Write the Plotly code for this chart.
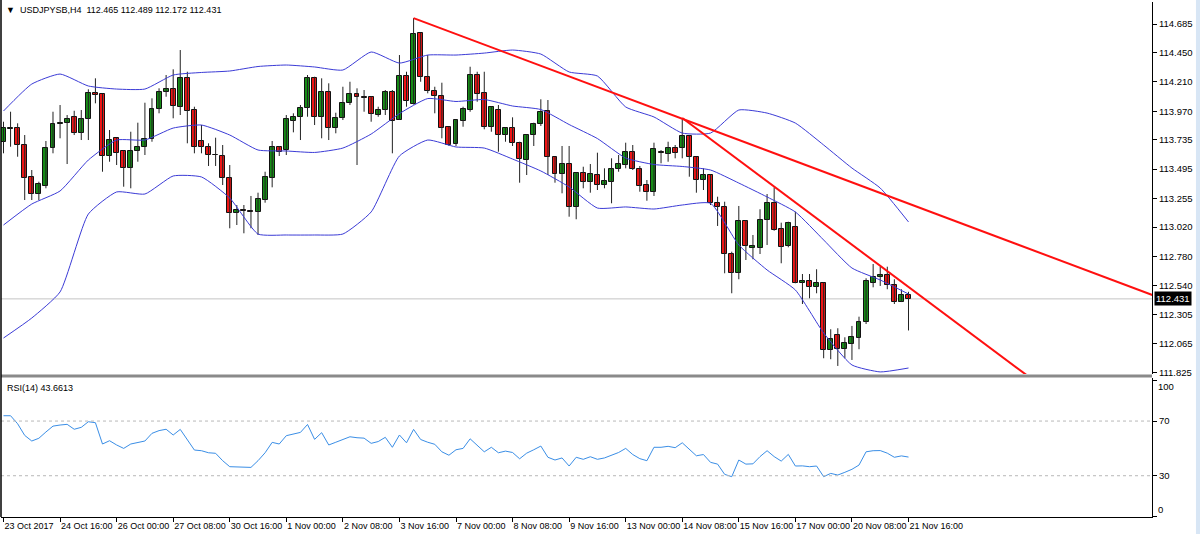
import plotly.graph_objects as go

# ---------------- data (USDJPY H4) ----------------
open_ = [
113.720, 113.828, 113.830, 113.693, 113.433, 113.291, 113.357, 113.666, 113.869, 113.871,
113.925, 113.789, 113.904, 114.122, 114.109, 113.603, 113.748, 113.644, 113.507, 113.644,
113.674, 113.742, 113.988, 114.125, 114.150, 114.007, 114.240, 113.980, 113.726, 113.674,
113.611, 113.605, 113.420, 113.138, 113.156, 113.154, 113.146, 113.242, 113.420, 113.674,
113.652, 113.892, 113.925, 113.994, 114.240, 113.925, 114.130, 113.830, 113.912, 114.035,
114.111, 114.084, 114.084, 113.939, 113.980, 114.130, 113.898, 114.259, 114.029, 114.609,
114.253, 114.138, 114.095, 113.838, 113.701, 113.892, 113.980, 114.267, 114.122, 113.843,
113.980, 113.775, 113.830, 113.712, 113.570, 113.775, 113.865, 113.974, 113.592, 113.455,
113.537, 113.187, 113.466, 113.392, 113.447, 113.365, 113.392, 113.494, 113.529, 113.638,
113.494, 113.365, 113.310, 113.632, 113.617, 113.671, 113.671, 113.767, 113.592, 113.406,
113.447, 113.215, 113.187, 112.799, 112.646, 113.072, 112.851, 112.851, 113.078, 113.215,
113.002, 112.865, 113.018, 112.564, 112.580, 112.526, 112.564, 112.012, 112.135, 112.018,
112.061, 112.108, 112.244, 112.564, 112.613, 112.627, 112.545, 112.408, 112.465]
high = [
113.884, 113.966, 113.871, 113.775, 113.488, 113.392, 113.726, 113.966, 114.021, 113.939,
113.974, 113.980, 114.150, 114.240, 114.112, 113.816, 113.750, 113.646, 113.802, 113.876,
114.040, 114.076, 114.158, 114.267, 114.314, 114.472, 114.294, 114.007, 113.857, 113.707,
113.753, 113.693, 113.529, 113.201, 113.201, 113.275, 113.302, 113.474, 113.726, 113.685,
113.939, 113.953, 114.021, 114.267, 114.253, 114.240, 114.199, 113.958, 114.171, 114.212,
114.158, 114.144, 114.095, 114.007, 114.144, 114.144, 114.431, 114.294, 114.734, 114.612,
114.431, 114.171, 114.204, 113.843, 113.904, 114.007, 114.335, 114.294, 114.294, 114.010,
114.021, 113.838, 113.920, 113.720, 113.778, 113.876, 114.068, 114.062, 113.597, 113.685,
113.685, 113.470, 113.515, 113.537, 113.630, 113.502, 113.584, 113.611, 113.712, 113.693,
113.521, 113.406, 113.712, 113.652, 113.720, 113.693, 113.914, 113.770, 113.595, 113.502,
113.450, 113.269, 113.228, 112.818, 113.193, 113.075, 112.955, 113.166, 113.291, 113.346,
113.056, 113.064, 113.146, 112.635, 112.635, 112.674, 112.566, 112.182, 112.190, 112.116,
112.209, 112.285, 112.600, 112.717, 112.695, 112.695, 112.592, 112.510, 112.489]
low = [
113.625, 113.679, 113.597, 113.242, 113.242, 113.242, 113.338, 113.625, 113.748, 113.537,
113.775, 113.734, 113.734, 114.035, 113.474, 113.556, 113.529, 113.351, 113.338, 113.556,
113.611, 113.720, 113.953, 114.089, 113.912, 113.939, 113.707, 113.625, 113.625, 113.521,
113.521, 113.365, 113.010, 113.037, 112.969, 113.010, 112.955, 113.220, 113.346, 113.603,
113.611, 113.797, 113.734, 113.925, 113.857, 113.748, 113.734, 113.789, 113.898, 114.021,
113.529, 113.966, 113.884, 113.925, 113.939, 113.625, 113.898, 114.007, 114.025, 114.212,
114.117, 113.953, 113.748, 113.685, 113.685, 113.843, 113.966, 114.048, 113.822, 113.802,
113.638, 113.720, 113.685, 113.384, 113.447, 113.685, 113.849, 113.447, 113.384, 113.297,
113.105, 113.084, 113.338, 113.302, 113.324, 113.338, 113.215, 113.474, 113.502, 113.488,
113.310, 113.236, 113.275, 113.543, 113.556, 113.584, 113.584, 113.433, 113.302, 113.324,
113.201, 113.029, 112.641, 112.477, 112.592, 112.750, 112.756, 112.799, 112.873, 112.990,
112.723, 112.854, 112.559, 112.389, 112.436, 112.477, 111.944, 111.936, 111.881, 111.944,
111.930, 112.018, 112.225, 112.526, 112.537, 112.510, 112.389, 112.405, 112.172]
close = [
113.830, 113.832, 113.693, 113.420, 113.291, 113.373, 113.666, 113.865, 113.871, 113.904,
113.789, 113.904, 114.122, 114.103, 113.603, 113.734, 113.630, 113.507, 113.644, 113.674,
113.742, 113.988, 114.125, 114.150, 114.013, 114.240, 113.974, 113.679, 113.674, 113.611,
113.608, 113.420, 113.138, 113.160, 113.154, 113.146, 113.248, 113.433, 113.674, 113.638,
113.904, 113.925, 113.994, 114.240, 113.925, 114.130, 113.830, 113.912, 114.035, 114.111,
114.084, 114.082, 113.947, 113.980, 114.130, 113.892, 114.259, 114.056, 114.603, 114.253,
114.138, 114.095, 113.830, 113.693, 113.898, 113.986, 114.267, 114.111, 113.838, 114.007,
113.775, 113.830, 113.707, 113.576, 113.775, 113.865, 113.966, 113.592, 113.455, 113.537,
113.187, 113.466, 113.392, 113.455, 113.365, 113.398, 113.494, 113.535, 113.638, 113.494,
113.357, 113.310, 113.658, 113.630, 113.671, 113.630, 113.767, 113.592, 113.406, 113.447,
113.220, 113.182, 112.799, 112.646, 113.072, 112.865, 112.867, 113.078, 113.215, 112.996,
112.859, 113.056, 112.564, 112.580, 112.526, 112.564, 112.012, 112.100, 112.018, 112.072,
112.116, 112.244, 112.580, 112.608, 112.627, 112.545, 112.408, 112.462, 112.431]

rsi = [
73.9, 73.9, 68.0, 59.5, 55.4, 57.4, 62.0, 66.3, 67.1, 67.6,
64.0, 65.4, 69.5, 68.8, 53.2, 55.6, 52.5, 50.0, 53.2, 54.5,
55.4, 61.0, 63.0, 64.0, 59.8, 63.9, 56.0, 48.8, 48.3, 46.8,
46.4, 41.0, 36.6, 36.6, 36.4, 36.1, 41.0, 46.8, 54.4, 53.2,
59.3, 60.5, 61.7, 67.5, 56.6, 61.5, 52.5, 54.5, 56.5, 58.5,
57.8, 57.5, 53.7, 55.0, 58.1, 50.8, 59.8, 54.1, 63.9, 56.5,
54.5, 53.0, 47.5, 45.0, 49.0, 50.0, 57.0, 52.0, 47.5, 50.8,
46.8, 48.0, 47.0, 42.4, 46.5, 49.0, 51.7, 43.5, 41.5, 43.0,
37.1, 43.5, 42.0, 43.9, 42.0, 43.0, 45.0, 47.0, 50.0, 45.5,
42.5, 41.0, 50.8, 50.8, 51.5, 50.5, 54.1, 49.0, 44.6, 45.5,
39.8, 38.5, 31.0, 29.3, 41.5, 38.5, 38.7, 44.0, 48.3, 44.0,
40.7, 45.6, 37.1, 37.2, 36.6, 37.1, 29.3, 31.7, 30.5, 32.5,
34.7, 37.8, 47.5, 48.3, 48.4, 46.5, 43.5, 44.5, 43.6613]

# Bollinger bands, read every 4th bar
bb_bars = list(range(0, 129, 4))
bb_upper = [113.972, 114.193, 114.275, 114.177, 114.152, 114.152, 114.267, 114.288, 114.300, 114.337,
            114.349, 114.333, 114.308, 114.456, 114.365, 114.431, 114.431, 114.447, 114.472, 114.439,
            114.292, 114.259, 114.005, 113.923, 113.791, 113.791, 113.980, 113.955, 113.873, 113.693,
            113.504, 113.340, 113.062]
bb_mid = [113.037, 113.209, 113.316, 113.570, 113.734, 113.734, 113.832, 113.857, 113.775, 113.652,
          113.644, 113.632, 113.668, 113.783, 113.951, 114.074, 114.050, 114.066, 114.013, 113.984,
          113.861, 113.746, 113.586, 113.533, 113.517, 113.488, 113.381, 113.267, 113.144, 112.914,
          112.684, 112.586, 112.471]
bb_lower = [112.110, 112.274, 112.488, 113.127, 113.308, 113.291, 113.439, 113.431, 113.258, 112.963,
            112.955, 112.955, 112.963, 113.144, 113.603, 113.734, 113.677, 113.668, 113.578, 113.480,
            113.349, 113.176, 113.185, 113.168, 113.201, 113.215, 112.873, 112.668, 112.504, 112.151,
            111.889, 111.832, 111.864]

# trend lines (bar index, price)
trend1_x = [58, 163]
trend1_y = [114.734, 112.452]
trend2_x = [96, 150]
trend2_y = [113.914, 111.577]

price_ticks = [114.685, 114.450, 114.210, 113.970, 113.735, 113.495, 113.255,
               113.020, 112.780, 112.540, 112.305, 112.065, 111.825]
rsi_ticks = [0, 30, 70, 100]
time_tick_bars = list(range(0, 129, 8))
time_tick_labels = ["23 Oct 2017", "24 Oct 16:00", "26 Oct 00:00", "27 Oct 08:00", "30 Oct 16:00",
                    "1 Nov 00:00", "2 Nov 08:00", "3 Nov 16:00", "7 Nov 00:00", "8 Nov 08:00",
                    "9 Nov 16:00", "13 Nov 00:00", "14 Nov 08:00", "15 Nov 16:00", "17 Nov 00:00",
                    "20 Nov 08:00", "21 Nov 16:00"]
last_price = close[-1]
symbol_text = "USDJPYSB,H4  %.3f %.3f %.3f %.3f" % (open_[-1], high[-1], low[-1], close[-1])
rsi_text = "RSI(14) %.4f" % rsi[-1]

# ---------------- figure ----------------
FONT = "Liberation Sans, Arial, sans-serif"
bars = list(range(len(close)))
fig = go.Figure()

# wicks
wx, wy = [], []
for i in bars:
    wx += [i, i, None]
    wy += [low[i], high[i], None]
fig.add_trace(go.Scatter(x=wx, y=wy, mode="lines", line=dict(color="#222222", width=1),
                         hoverinfo="skip", showlegend=False, xaxis="x", yaxis="y"))

# bodies
base = [min(o, c) for o, c in zip(open_, close)]
height = [max(abs(c - o), 0.002) for o, c in zip(open_, close)]
colors = ["#168c16" if c >= o else "#ee1515" for o, c in zip(open_, close)]
fig.add_trace(go.Bar(x=bars, y=height, base=base, width=0.7,
                     marker=dict(color=colors, line=dict(color="#111111", width=1)),
                     showlegend=False, xaxis="x", yaxis="y"))

# Bollinger bands
for band in (bb_upper, bb_mid, bb_lower):
    fig.add_trace(go.Scatter(x=bb_bars, y=band, mode="lines",
                             line=dict(color="#3b3bd6", width=1, shape="spline", smoothing=0.5),
                             showlegend=False, xaxis="x", yaxis="y"))

# trend lines
for tx, ty in ((trend1_x, trend1_y), (trend2_x, trend2_y)):
    fig.add_trace(go.Scatter(x=tx, y=ty, mode="lines", line=dict(color="#ff1010", width=2),
                             showlegend=False, xaxis="x", yaxis="y"))

# RSI
fig.add_trace(go.Scatter(x=bars, y=rsi, mode="lines", line=dict(color="#3a8ee6", width=1),
                         showlegend=False, xaxis="x2", yaxis="y2"))

axis_common = dict(showgrid=False, zeroline=False, linecolor="black", showline=True, automargin=False,
                   tickcolor="black")

# RSI axis: 30 / 70 as tick labels, 0 / 100 placed inside the panel edges (as in the terminal)
rsi_ticktext = ["" if v in (0, 100) else str(v) for v in rsi_ticks]

fig.update_layout(
    width=1200, height=534,
    margin=dict(l=1, r=48, t=2, b=17, autoexpand=False),
    paper_bgcolor="white", plot_bgcolor="white",
    bargap=0, barmode="overlay",
    font=dict(family=FONT, size=9, color="black"),
    xaxis=dict(domain=[0, 1], range=[-0.354, 162.44], anchor="y", showticklabels=False,
               showgrid=False, zeroline=False, showline=False, ticks="", automargin=False),
    yaxis=dict(domain=[0.2777, 1], range=[111.815, 114.866], side="right", anchor="x",
               tickvals=price_ticks, ticktext=["%.3f" % v for v in price_ticks],
               ticks="outside", ticklen=4, tickfont=dict(family=FONT, size=9.5, color="black"),
               **axis_common),
    xaxis2=dict(domain=[0, 1], anchor="y2", matches="x", tickvals=time_tick_bars,
                ticktext=time_tick_labels, ticks="outside", ticklen=4, tickangle=0,
                ticklabelposition="outside right", tickfont=dict(family=FONT, size=9, color="black"),
                **axis_common),
    yaxis2=dict(domain=[0, 0.2699], range=[-0.2, 101.5], side="right", anchor="x2",
                tickvals=rsi_ticks, ticktext=rsi_ticktext,
                ticks="outside", ticklen=4, tickfont=dict(family=FONT, size=9.5, color="black"),
                **axis_common),
    shapes=[
        dict(type="line", xref="x domain", x0=0, x1=1, yref="y", y0=last_price, y1=last_price,
             line=dict(color="#c4c4c4", width=1), layer="below"),
        dict(type="line", xref="x2 domain", x0=0, x1=1, yref="y2", y0=70, y1=70,
             line=dict(color="#b8b8b8", width=1, dash="dot")),
        dict(type="line", xref="x2 domain", x0=0, x1=1, yref="y2", y0=30, y1=30,
             line=dict(color="#b8b8b8", width=1, dash="dot")),
        dict(type="rect", xref="paper", x0=0, x1=1, yref="paper", y0=0.2709, y1=0.2767,
             fillcolor="#8a8a8a", line=dict(width=0)),
        dict(type="line", xref="paper", x0=0, x1=0, yref="paper", y0=0, y1=1.004,
             line=dict(color="black", width=1.5)),
        dict(type="rect", xref="paper", x0=1.0382, x1=1.046, yref="paper", y0=-0.04, y1=1.01,
             fillcolor="#d8e6f5", line=dict(width=0)),
    ],
    annotations=[
        dict(text="\u25bc  " + symbol_text, xref="paper", yref="paper", x=0.003, y=0.9845,
             xanchor="left", yanchor="middle", showarrow=False, font=dict(family=FONT, size=9)),
        dict(text=rsi_text, xref="paper", yref="paper", x=0.0035, y=0.2505,
             xanchor="left", yanchor="middle", showarrow=False, font=dict(family=FONT, size=9)),
        dict(text="%.3f" % last_price, xref="paper", yref="y", x=1.0, y=last_price,
             xanchor="left", yanchor="middle", xshift=2, showarrow=False, bgcolor="black",
             borderpad=1, font=dict(family=FONT, size=9.5, color="white")),
        dict(text=str(rsi_ticks[-1]), xref="paper", yref="y2", x=1.0, y=rsi_ticks[-1],
             xanchor="left", yanchor="top", xshift=5, yshift=0, showarrow=False, borderpad=0,
             font=dict(family=FONT, size=9.5, color="black")),
        dict(text=str(rsi_ticks[0]), xref="paper", yref="y2", x=1.0, y=rsi_ticks[0],
             xanchor="left", yanchor="bottom", xshift=5, yshift=1, showarrow=False, borderpad=0,
             font=dict(family=FONT, size=9.5, color="black")),
    ],
)

fig.write_html("out.html")
